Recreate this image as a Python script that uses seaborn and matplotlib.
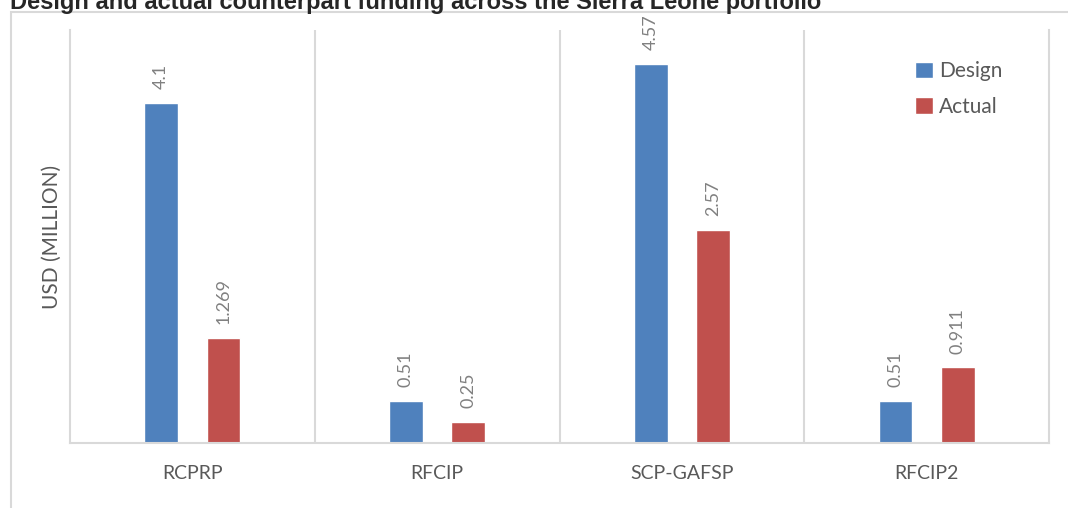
import pandas as pd
import seaborn as sns
import matplotlib.pyplot as plt
from matplotlib.patches import Rectangle

projects = ["RCPRP", "RFCIP", "SCP-GAFSP", "RFCIP2"]
design = [4.1, 0.51, 4.57, 0.51]
actual = [1.269, 0.25, 2.57, 0.911]

df = pd.DataFrame({
    "Project": projects * 2,
    "Type": ["Design"] * 4 + ["Actual"] * 4,
    "USD": design + actual,
})

sns.set_style("white")
plt.rcParams["font.family"] = ["Lato", "DejaVu Sans"]

grid_col = "#d9d9d9"
text_col = "#595959"

fig = plt.figure(figsize=(10.68, 5.08), dpi=100)
ax = fig.add_axes([70 / 1068, 65 / 508, 979 / 1068, 413 / 508])

# chart frame (extends past right/bottom edge like the crop)
fig.patches.append(Rectangle((11 / 1068, -0.1), 1.2, 1.1 - 12 / 508,
                             transform=fig.transFigure, fill=False,
                             edgecolor=grid_col, lw=1.5, zorder=0))

sns.barplot(data=df, x="Project", y="USD", hue="Type", ax=ax,
            palette=["#4f81bd", "#c0504d"], width=0.51, gap=0.46,
            saturation=1)

for c in ax.containers:
    ax.bar_label(c, fmt="{:g}", rotation=90, padding=10, fontsize=13,
                 color="#808080")

ax.set_xlim(-0.5, 3.5)
ax.set_ylim(0, 4.98)
ax.set_yticks([])
ax.set_xticks([0.5, 1.5, 2.5], minor=True)
ax.grid(axis="x", which="minor", color=grid_col, lw=1.5)
ax.tick_params(axis="x", which="both", length=0, colors=text_col,
               labelsize=14, pad=16)
for lab in ax.get_xticklabels():
    lab.set_color(text_col)
ax.set_xlabel("")
ax.set_ylabel("USD (MILLION)", fontsize=15, color=text_col, labelpad=6)
ax.spines["top"].set_visible(False)
for s in ["left", "right", "bottom"]:
    ax.spines[s].set_color(grid_col)
    ax.spines[s].set_linewidth(1.5)

leg = ax.legend(loc="upper left", bbox_to_anchor=(0.844, 0.97), frameon=False,
                fontsize=15, handlelength=0.85, handleheight=0.85,
                handletextpad=0.3, labelspacing=0.75)
for t in leg.get_texts():
    t.set_color(text_col)

fig.text(10 / 1068, 1 - 9 / 508,
         "Design and actual counterpart funding across the Sierra Leone portfolio",
         family="Liberation Sans", weight="bold", fontsize=17, va="baseline")

fig.savefig("out.png", dpi=100)
